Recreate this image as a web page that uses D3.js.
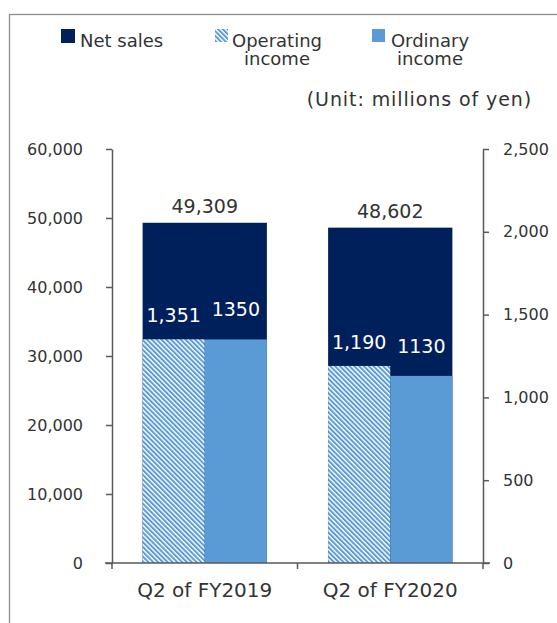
<!DOCTYPE html>
<html>
<head>
<meta charset="utf-8">
<script src="https://cdn.jsdelivr.net/npm/d3@7"></script>
<style>
    body { margin: 0; background: #fff; }
    svg text { font-family: "DejaVu Sans", Verdana, sans-serif; fill: #333; }
</style>
</head>
<body>
<div id="chart"></div>
<script>
// Data
const categories = ['Q2 of FY2019', 'Q2 of FY2020'];
const netSales = [49309, 48602];
const operatingIncome = [1351, 1190];
const ordinaryIncome = [1350, 1130];
const leftTicks = [0, 10000, 20000, 30000, 40000, 50000, 60000];
const rightTicks = [0, 500, 1000, 1500, 2000, 2500];

const colors = {
    net: '#00205b',
    ordinary: '#5b9bd5',
    axis: '#595959'
};

const chart = {
    totalWidth: 557,
    totalHeight: 623,
    margin: { top: 149, bottom: 60, left: 112, right: 74 }
};
chart.width = chart.totalWidth - chart.margin.left - chart.margin.right;
chart.height = chart.totalHeight - chart.margin.top - chart.margin.bottom;

const svg = d3.select('#chart')
    .append('svg')
    .attr('width', chart.totalWidth)
    .attr('height', chart.totalHeight);

// hatch pattern for operating income
svg.append('defs')
    .append('pattern')
    .attr('id', 'hatch')
    .attr('patternUnits', 'userSpaceOnUse')
    .attr('width', 3.4)
    .attr('height', 3.4)
    .attr('patternTransform', 'rotate(-45)')
    .call(p => p.append('rect').attr('width', 3.4).attr('height', 3.4).attr('fill', '#fff'))
    .call(p => p.append('rect').attr('width', 2).attr('height', 3.4).attr('fill', colors.ordinary));

// outer frame
svg.append('rect')
    .attr('x', 9.5).attr('y', 14.5)
    .attr('width', 700).attr('height', 800)
    .attr('fill', 'none')
    .attr('stroke', '#8c8c8c')
    .attr('stroke-width', 1.3);

const g = svg.append('g')
    .attr('transform', `translate(${chart.margin.left}, ${chart.margin.top})`);

// Scales
const xScale = d3.scaleBand()
    .domain(categories)
    .range([0, chart.width])
    .paddingInner(0.33)
    .paddingOuter(0.165);

const subScale = d3.scaleBand()
    .domain(['operating', 'ordinary'])
    .range([0, xScale.bandwidth()]);

const yLeft = d3.scaleLinear().domain([0, 60000]).range([chart.height, 0]);
const yRight = d3.scaleLinear().domain([0, 2500]).range([chart.height, 0]);

// Bars
const groups = g.selectAll('.cat')
    .data(categories)
    .enter()
    .append('g')
    .attr('transform', d => `translate(${xScale(d)}, 0)`);

groups.append('rect')
    .attr('y', (d, i) => yLeft(netSales[i]))
    .attr('width', xScale.bandwidth())
    .attr('height', (d, i) => chart.height - yLeft(netSales[i]))
    .attr('fill', colors.net);

groups.append('rect')
    .attr('x', subScale('operating'))
    .attr('y', (d, i) => yRight(operatingIncome[i]))
    .attr('width', subScale.bandwidth())
    .attr('height', (d, i) => chart.height - yRight(operatingIncome[i]))
    .attr('fill', 'url(#hatch)');

groups.append('rect')
    .attr('x', subScale('ordinary'))
    .attr('y', (d, i) => yRight(ordinaryIncome[i]))
    .attr('width', subScale.bandwidth())
    .attr('height', (d, i) => chart.height - yRight(ordinaryIncome[i]))
    .attr('fill', colors.ordinary);

// Value labels
groups.append('text')
    .attr('x', xScale.bandwidth() / 2)
    .attr('y', (d, i) => yLeft(netSales[i]) - 10)
    .attr('text-anchor', 'middle')
    .style('font-size', '19px')
    .text((d, i) => d3.format(',')(netSales[i]));

groups.append('text')
    .attr('x', subScale('operating') + subScale.bandwidth() / 2)
    .attr('y', (d, i) => yRight(operatingIncome[i]) - 17)
    .attr('text-anchor', 'middle')
    .style('font-size', '19px')
    .style('fill', '#fff')
    .text((d, i) => d3.format(',')(operatingIncome[i]));

groups.append('text')
    .attr('x', subScale('ordinary') + subScale.bandwidth() / 2)
    .attr('y', (d, i) => yRight(ordinaryIncome[i]) - 23)
    .attr('text-anchor', 'middle')
    .style('font-size', '19px')
    .style('fill', '#fff')
    .text((d, i) => ordinaryIncome[i]);

// Axes
const styleAxis = sel => {
    sel.selectAll('path, line').attr('stroke', colors.axis).attr('stroke-width', 1.5);
    sel.selectAll('text').style('font-size', '16px').style('fill', '#333');
};

g.append('g')
    .call(d3.axisLeft(yLeft).tickValues(leftTicks).tickFormat(d3.format(',')).tickSize(6).tickSizeOuter(0).tickPadding(23))
    .call(styleAxis);

g.append('g')
    .attr('transform', `translate(${chart.width}, 0)`)
    .call(d3.axisRight(yRight).tickValues(rightTicks).tickFormat(d3.format(',')).tickSize(6).tickSizeOuter(0).tickPadding(14))
    .call(styleAxis);

// category axis: labels centred, ticks on the band boundaries
const xAxis = g.append('g')
    .attr('transform', `translate(0, ${chart.height})`)
    .call(d3.axisBottom(xScale).tickSize(0).tickPadding(20))
    .call(styleAxis);
xAxis.select('.domain').remove();
xAxis.selectAll('text').style('font-size', '20px');

const bounds = [0].concat(categories.map(c => xScale(c) + xScale.bandwidth() + xScale.step() * xScale.paddingInner() / 2));
bounds[bounds.length - 1] = chart.width;

xAxis.append('line')
    .attr('x1', -7).attr('x2', chart.width + 7)
    .attr('stroke', colors.axis).attr('stroke-width', 1.5);

xAxis.selectAll('.bound')
    .data(bounds)
    .enter()
    .append('line')
    .attr('x1', d => d).attr('x2', d => d)
    .attr('y1', 0).attr('y2', 6)
    .attr('stroke', colors.axis).attr('stroke-width', 1.5);

// Legend
const legend = svg.append('g').classed('legend', true);
legend.append('rect').attr('x', 61).attr('y', 29).attr('width', 14).attr('height', 14).attr('fill', colors.net);
legend.append('text').attr('x', 80).attr('y', 47).style('font-size', '18px').text('Net sales');

legend.append('rect').attr('x', 215).attr('y', 29).attr('width', 13).attr('height', 13).attr('fill', 'url(#hatch)');
legend.append('text').attr('x', 277).attr('y', 47).attr('text-anchor', 'middle').style('font-size', '18px').text('Operating');
legend.append('text').attr('x', 277).attr('y', 65).attr('text-anchor', 'middle').style('font-size', '18px').text('income');

legend.append('rect').attr('x', 372).attr('y', 29).attr('width', 13).attr('height', 13).attr('fill', colors.ordinary);
legend.append('text').attr('x', 430).attr('y', 47).attr('text-anchor', 'middle').style('font-size', '18px').text('Ordinary');
legend.append('text').attr('x', 430).attr('y', 65).attr('text-anchor', 'middle').style('font-size', '18px').text('income');

svg.append('text')
    .attr('x', 532).attr('y', 106)
    .attr('text-anchor', 'end')
    .style('font-size', '19px')
    .style('letter-spacing', '0.9px')
    .text('(Unit: millions of yen)');
</script>
</body>
</html>
